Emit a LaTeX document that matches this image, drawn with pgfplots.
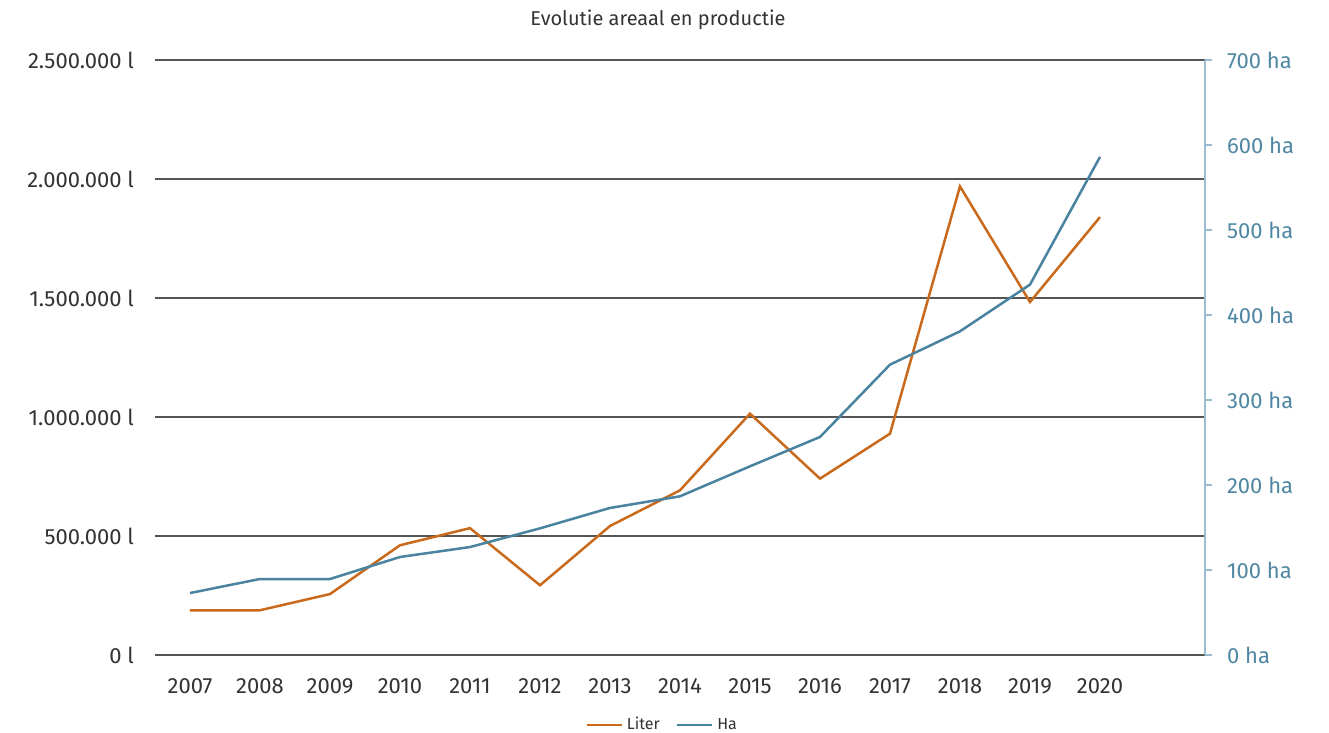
\documentclass[border=0pt]{standalone}
\usepackage{fontspec}
\setmainfont{Fira Sans}
\usepackage{pgfplots}
\pgfplotsset{compat=1.18}
\definecolor{liter}{HTML}{C8691C}
\definecolor{ha}{HTML}{4A83A0}
\definecolor{haaxis}{HTML}{9CBDD0}
\definecolor{hatext}{HTML}{4F87A3}
\definecolor{gridc}{HTML}{555555}
\definecolor{txt}{HTML}{333333}
\begin{document}
\begin{tikzpicture}
\useasboundingbox (-77.5pt,-39pt) rectangle (587pt,327.5pt);
\begin{axis}[
  at={(0,0)}, anchor=south west, scale only axis,
  width=525pt, height=297.5pt,
  xmin=-0.5, xmax=14.5, ymin=0, ymax=2500000,
  xtick={0,1,...,13},
  xticklabels={2007,2008,2009,2010,2011,2012,2013,2014,2015,2016,2017,2018,2019,2020},
  ytick={0,500000,1000000,1500000,2000000,2500000},
  yticklabels={0 l,500.000 l,1.000.000 l,1.500.000 l,2.000.000 l,2.500.000 l},
  axis line style={draw=none}, major tick length=0pt,
  ymajorgrids, grid style={gridc, line width=0.75pt},
  tick label style={font=\fontsize{11}{13}\selectfont, text=txt},
  yticklabel style={xshift=-7pt},
  xticklabel style={yshift=-8pt},
  scaled y ticks=false,
  legend style={at={(0.484,-0.118)}, anchor=center, draw=none, fill=none,
    font=\fontsize{8}{9}\selectfont, text=txt, legend columns=2,
    /tikz/every even column/.append style={column sep=6pt}},
  legend image code/.code={\draw[#1] (0pt,0pt) -- (17.5pt,0pt);},
]
\addplot[liter, line width=1.25pt] coordinates {
(0,188000) (1,188000) (2,256000) (3,461000) (4,533000) (5,293000) (6,542000)
(7,692000) (8,1014000) (9,741000) (10,930000) (11,1969000) (12,1483000) (13,1840000)};
\addlegendentry{Liter}
\addlegendimage{ha, line width=1.25pt}
\addlegendentry{Ha}
\end{axis}
\begin{axis}[
  at={(0,0)}, anchor=south west, scale only axis,
  width=525pt, height=297.5pt,
  xmin=-0.5, xmax=14.5, ymin=0, ymax=700,
  axis x line=none, axis y line*=right,
  ytick={0,100,...,700},
  yticklabels={0 ha,100 ha,200 ha,300 ha,400 ha,500 ha,600 ha,700 ha},
  tick align=outside, major tick length=3.5pt,
  y axis line style={haaxis, line width=0.6pt},
  ytick style={haaxis, line width=0.6pt},
  tick label style={font=\fontsize{11}{13}\selectfont, text=hatext},
  yticklabel style={xshift=4pt},
]
\addplot[ha, line width=1.25pt] coordinates {
(0,72.9) (1,89.4) (2,89.4) (3,115.3) (4,127) (5,149) (6,173)
(7,186.7) (8,222) (9,256.5) (10,341.6) (11,380.8) (12,435.8) (13,586)};
\end{axis}
\node[font=\fontsize{10}{12}\selectfont, text=txt] at (251.5pt,317.5pt) {Evolutie areaal en productie};
\end{tikzpicture}
\end{document}
